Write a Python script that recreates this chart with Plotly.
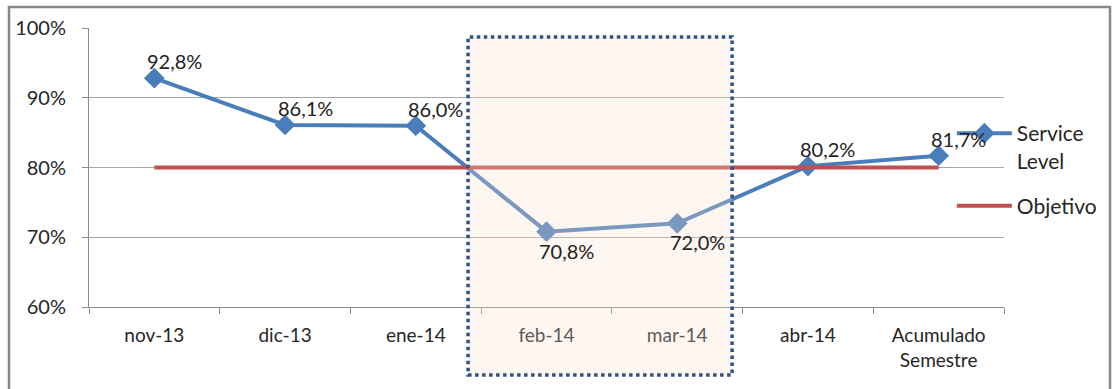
import plotly.graph_objects as go

# Monthly service level vs. target
categories = ["nov-13", "dic-13", "ene-14", "feb-14", "mar-14", "abr-14", "Acumulado<br>Semestre"]
service_level = [92.8, 86.1, 86.0, 70.8, 72.0, 80.2, 81.7]
objetivo = [80, 80, 80, 80, 80, 80, 80]
highlighted = ["feb-14", "mar-14"]
y_ticks = [60, 70, 80, 90, 100]
y_tick_labels = [f"{v}%" for v in y_ticks]

BLUE = "#4A7EBB"
RED = "#C0504D"
FONT = "Lato, 'Open Sans', sans-serif"

W, H = 1116, 389
L, R, T, B = 89, 112, 28, 82

fig = go.Figure()

fig.add_trace(go.Scatter(
    x=categories, y=service_level, name="Service<br>Level",
    mode="lines+markers", legendgroup="sl",
    line=dict(color=BLUE, width=4),
    marker=dict(symbol="diamond", size=16, color=BLUE),
))
fig.add_trace(go.Scatter(
    x=categories, y=objetivo, name="Objetivo",
    mode="lines", legendgroup="obj",
    line=dict(color=RED, width=4),
))

# value labels: below the point when under target, otherwise above
for c, v, t in zip(categories, service_level, objetivo):
    below = v < t
    fig.add_annotation(
        x=c, y=v, xref="x", yref="y",
        text=f"{v:.1f}%".replace(".", ","),
        showarrow=False,
        xshift=20, yshift=-19 if below else 17,
        font=dict(family=FONT, size=20, color="#222222"),
    )

# shaded, dotted box around the highlighted months
idx = [categories.index(c) for c in highlighted]
fig.add_shape(
    type="rect", xref="x", yref="paper",
    x0=min(idx) - 0.6, x1=max(idx) + 0.42,
    y0=-0.244, y1=0.968,
    line=dict(color="#2D5489", width=3.5, dash="dot"),
    fillcolor="rgba(250,224,200,0.28)",
    layer="above",
)

# outer chart frame
fig.add_shape(
    type="rect", xref="paper", yref="paper",
    x0=(9 - L) / (W - L - R), x1=(1110 - L) / (W - L - R),
    y0=-0.35, y1=(H - B - 7) / (H - B - T),
    line=dict(color="#878787", width=2.5),
    fillcolor="rgba(0,0,0,0)",
    layer="below",
)

fig.update_layout(
    width=W, height=H,
    margin=dict(l=L, r=R, t=T, b=B),
    paper_bgcolor="white", plot_bgcolor="white",
    font=dict(family=FONT, color="#262626"),
    showlegend=True,
    legend=dict(
        x=0.943, y=0.695, xanchor="left", yanchor="top",
        bgcolor="rgba(0,0,0,0)", valign="top",
        font=dict(family=FONT, size=21, color="#262626"),
        tracegroupgap=15, itemwidth=55,
    ),
    xaxis=dict(
        type="category", range=[-0.5, 6.5],
        showgrid=False, showline=True, linecolor="#8C8C8C", linewidth=1,
        ticks="outside", tickson="boundaries", ticklen=6, tickcolor="#8C8C8C",
        ticklabelstandoff=11,
        tickfont=dict(family=FONT, size=19, color="#262626"),
    ),
    yaxis=dict(
        range=[60, 100], tickvals=y_ticks, ticktext=y_tick_labels,
        showgrid=True, gridcolor="#A6A6A6", gridwidth=1,
        showline=True, linecolor="#8C8C8C", linewidth=1,
        ticks="outside", ticklen=6, tickcolor="#8C8C8C",
        ticklabelstandoff=12,
        tickfont=dict(family=FONT, size=20, color="#262626"),
        zeroline=False,
    ),
)

fig.write_html("out.html")
